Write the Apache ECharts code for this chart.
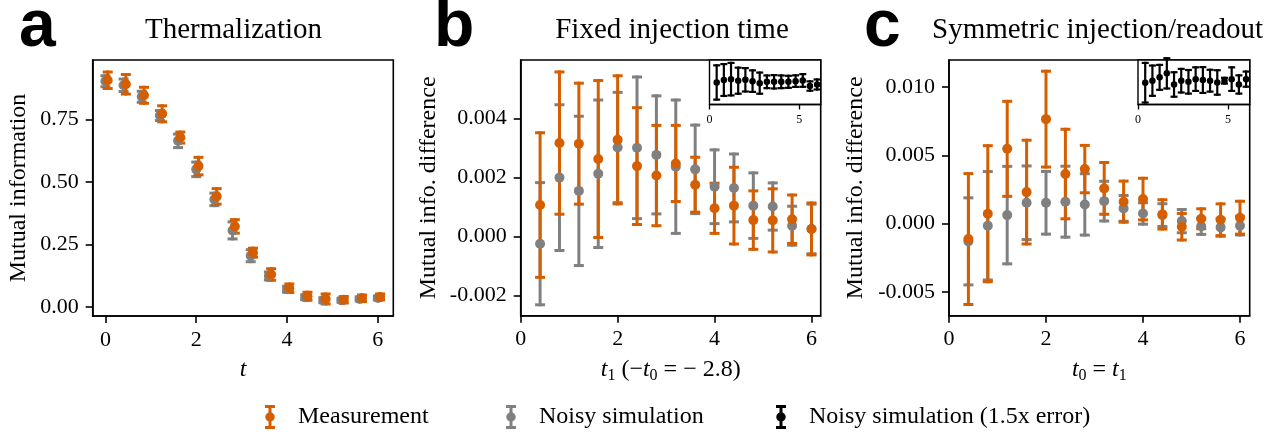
<!DOCTYPE html>
<html>
<head>
<meta charset="utf-8">
<script src="https://cdn.jsdelivr.net/npm/echarts@6/dist/echarts.min.js"></script>
<style>
html,body{margin:0;padding:0;background:#fff;}
#chart{width:1287px;height:436px;}
</style>
</head>
<body>
<div id="chart"></div>
<script>
// ---------- data ----------
const tA = [0.0,0.4,0.8,1.2,1.6,2.0,2.4,2.8,3.2,3.6,4.0,4.4,4.8,5.2,5.6,6.0];
const measOffsetA = 0.05;
const measA    = [0.906,0.890,0.846,0.772,0.677,0.563,0.442,0.322,0.217,0.130,0.075,0.043,0.032,0.029,0.035,0.040];
const measAErr = [0.033,0.039,0.032,0.032,0.022,0.035,0.031,0.027,0.018,0.023,0.017,0.016,0.020,0.013,0.013,0.012];
const simA     = [0.902,0.886,0.840,0.765,0.664,0.550,0.430,0.306,0.205,0.124,0.071,0.039,0.027,0.027,0.032,0.036];
const simAErr  = [0.022,0.025,0.022,0.020,0.027,0.029,0.025,0.034,0.024,0.016,0.012,0.010,0.010,0.008,0.008,0.008];

const tB = [0.4,0.8,1.2,1.6,2.0,2.4,2.8,3.2,3.6,4.0,4.4,4.8,5.2,5.6,6.0];
const measB    = [0.00106,0.00316,0.00314,0.00262,0.00327,0.00238,0.00206,0.00247,0.00175,0.00095,0.00104,0.00055,0.00054,0.00058,0.00025];
const measBErr = [0.00245,0.00241,0.00205,0.00266,0.00217,0.00198,0.00170,0.00129,0.00093,0.00085,0.00130,0.00099,0.00107,0.00082,0.00088];
const simB     = [-0.00025,0.00199,0.00154,0.00212,0.00301,0.00300,0.00276,0.00236,0.00227,0.00168,0.00164,0.00104,0.00101,0.00036,0.00025];
const simBErr  = [0.00207,0.00247,0.00253,0.00250,0.00187,0.00240,0.00200,0.00226,0.00150,0.00125,0.00115,0.00111,0.00080,0.00066,0.00084];

const tC = [0.4,0.8,1.2,1.6,2.0,2.4,2.8,3.2,3.6,4.0,4.4,4.8,5.2,5.6,6.0];
const measC    = [-0.00112,0.00073,0.00547,0.00231,0.00764,0.00363,0.00399,0.00258,0.00161,0.00180,0.00068,-0.00022,0.00036,0.00029,0.00044];
const measCErr = [0.00478,0.00497,0.00347,0.00379,0.00350,0.00327,0.00173,0.00189,0.00150,0.00152,0.00107,0.00097,0.00073,0.00116,0.00120];
const simC     = [-0.00129,-0.00015,0.00063,0.00153,0.00153,0.00161,0.00141,0.00165,0.00112,0.00075,0.00063,0.00019,-0.00019,-0.00027,-0.00015];
const simCErr  = [0.00318,0.00396,0.00356,0.00269,0.00229,0.00259,0.00224,0.00145,0.00094,0.00078,0.00083,0.00085,0.00059,0.00064,0.00067];

// insets (no y scale shown; arbitrary units)
const insetB    = [-0.01,0.10,0.14,0.07,0.11,0.05,-0.04,0.02,0.02,0.02,0.02,0.05,0.08,-0.17,-0.10];
const insetBErr = [0.77,0.715,0.73,0.585,0.525,0.485,0.475,0.285,0.30,0.285,0.27,0.26,0.285,0.21,0.225];
const insetC    = [-0.02,0.07,0.22,0.40,-0.10,0.07,0.02,0.14,0.10,0.07,-0.01,0.07,0.14,-0.10,0.14];
const insetCErr = [0.89,0.68,0.56,0.68,0.55,0.53,0.53,0.53,0.58,0.49,0.55,0.13,0.53,0.41,0.34];

// ticks
const xTicksMain = [0,2,4,6];
const xTicksInset = [0,5];
const yTicksA = [0,0.25,0.5,0.75];
const yTicksB = [-0.002,0,0.002,0.004];
const yTicksC = [-0.005,0,0.005,0.010];

// ---------- styling ----------
const ORANGE = '#d55e00';
const GRAY = '#808080';
const BLACK = '#000000';
const SERIF = '"Liberation Serif", "Times New Roman", serif';
const SANS = '"Liberation Sans", Arial, sans-serif';

function zip3(xs, ys, es, off) {
  return xs.map((x, i) => [x + (off || 0), ys[i], es[i]]);
}
function zip2(xs, ys, off) {
  return xs.map((x, i) => [x + (off || 0), ys[i]]);
}

// error bar: stem + two caps drawn as filled rectangles from axis coordinates
function barRender(halfCap, lw, color) {
  return function (params, api) {
    const x = api.value(0), y = api.value(1), e = api.value(2);
    const lo = api.coord([x, y - e]);
    const hi = api.coord([x, y + e]);
    const st = {fill: color};
    const h = lw / 2;
    return {
      type: 'group',
      children: [
        {type: 'rect', shape: {x: lo[0] - h, y: hi[1] - h, width: lw, height: lo[1] - hi[1] + lw}, style: st},
        {type: 'rect', shape: {x: lo[0] - halfCap, y: lo[1] - h, width: 2 * halfCap, height: lw}, style: st},
        {type: 'rect', shape: {x: hi[0] - halfCap, y: hi[1] - h, width: 2 * halfCap, height: lw}, style: st}
      ]
    };
  };
}

function errSeries(name, idx, data, color, halfCap, lw) {
  return {
    type: 'custom', name: name, xAxisIndex: idx, yAxisIndex: idx,
    data: data, encode: {x: 0, y: 1}, renderItem: barRender(halfCap, lw, color),
    silent: true, clip: false, z: 2
  };
}
function dotSeries(name, idx, data, color, size) {
  return {
    type: 'scatter', name: name, xAxisIndex: idx, yAxisIndex: idx,
    data: data, symbol: 'circle', symbolSize: size,
    itemStyle: {color: color, opacity: 1}, silent: true, z: 3
  };
}

const tickLabelStyle = {fontFamily: SERIF, fontSize: 22, color: '#000'};
const nameStyle = {
  fontFamily: SERIF, fontSize: 24, color: '#000', lineHeight: 28,
  rich: {
    i: {fontFamily: SERIF, fontSize: 24, fontStyle: 'italic', color: '#000', lineHeight: 28},
    s: {fontFamily: SERIF, fontSize: 16, color: '#000', lineHeight: 16, verticalAlign: 'bottom'},
    n: {fontFamily: SERIF, fontSize: 24, color: '#000', lineHeight: 28}
  }
};

function mainX(idx, min, max, name) {
  return {
    type: 'value', gridIndex: idx, min: min, max: max, name: name,
    nameLocation: 'middle', nameGap: 38, nameTextStyle: nameStyle,
    splitLine: {show: false},
    axisLine: {show: true, onZero: false, lineStyle: {color: '#000', width: 1.6}},
    axisTick: {show: true, length: 7, inside: false, lineStyle: {color: '#000', width: 1.6}, customValues: xTicksMain},
    axisLabel: {show: true, margin: 13, customValues: xTicksMain, formatter: v => String(Math.round(v)), ...tickLabelStyle}
  };
}
function mainY(idx, min, max, ticks, digits, name, gap) {
  return {
    type: 'value', gridIndex: idx, min: min, max: max, name: name,
    nameLocation: 'middle', nameGap: gap, nameTextStyle: {fontFamily: SERIF, fontSize: 24, color: '#000'},
    splitLine: {show: false},
    axisLine: {show: true, onZero: false, lineStyle: {color: '#000', width: 1.6}},
    axisTick: {show: true, length: 7, inside: false, lineStyle: {color: '#000', width: 1.6}, customValues: ticks},
    axisLabel: {show: true, margin: 14, customValues: ticks, formatter: v => v.toFixed(digits), ...tickLabelStyle}
  };
}
function insetX(idx) {
  return {
    type: 'value', gridIndex: idx, min: 0, max: 6.2,
    splitLine: {show: false},
    axisLine: {show: true, onZero: false, lineStyle: {color: '#000', width: 1.4}},
    axisTick: {show: true, length: 5, inside: false, lineStyle: {color: '#000', width: 1.3}, customValues: xTicksInset},
    axisLabel: {show: true, margin: 9, customValues: xTicksInset, formatter: v => String(Math.round(v)), fontFamily: SERIF, fontSize: 12, color: '#000'}
  };
}
function insetY(idx) {
  return {
    type: 'value', gridIndex: idx, min: -1, max: 1,
    splitLine: {show: false}, axisLine: {show: false}, axisTick: {show: false}, axisLabel: {show: false}
  };
}

// errorbar-shaped legend glyph (caps, stem, dot), all subpaths clockwise
const ICON = 'path://M0,0 L20,0 L20,6 L13,6 L13,42 L20,42 L20,48 L0,48 L0,42 L7,42 L7,6 L0,6 Z M0.5,24 A9.5,9.5 0 1,1 19.5,24 A9.5,9.5 0 1,1 0.5,24 Z';

function legendAt(left, name) {
  return {
    left: left, top: 405, padding: 0, itemWidth: 46, itemHeight: 24,
    selectedMode: false, orient: 'horizontal',
    data: [{name: name, icon: ICON}],
    textStyle: {fontFamily: SERIF, fontSize: 24, color: '#000'}
  };
}

const gridBase = {show: true, borderColor: '#000', borderWidth: 1.6, backgroundColor: 'transparent', containLabel: false, outerBoundsMode: 'none'};

const option = {
  animation: false,
  backgroundColor: '#fff',
  grid: [
    {...gridBase, left: 92.7, top: 60, width: 300.6, height: 256},
    {...gridBase, left: 520.7, top: 60, width: 300, height: 255.7},
    {...gridBase, left: 949, top: 60, width: 300.7, height: 255.7},
    {...gridBase, left: 709.5, top: 60, width: 111.2, height: 44.5, borderWidth: 1.4, backgroundColor: '#fff'},
    {...gridBase, left: 1138, top: 60, width: 111.7, height: 44.5, borderWidth: 1.4, backgroundColor: '#fff'}
  ],
  xAxis: [
    mainX(0, -0.28, 6.34, '{i|t}'),
    mainX(1, 0, 6.19, '{i|t}{s|1}{n| (−}{i|t}{s|0}{n| = − 2.8)}'),
    mainX(2, 0, 6.2, '{i|t}{s|0}{n| = }{i|t}{s|1}'),
    insetX(3),
    insetX(4)
  ],
  yAxis: [
    mainY(0, -0.036, 0.987, yTicksA, 2, 'Mutual information', 62),
    mainY(1, -0.00269, 0.005976, yTicksB, 3, 'Mutual info. difference', 80),
    mainY(2, -0.00672, 0.01196, yTicksC, 3, 'Mutual info. difference', 81),
    insetY(3),
    insetY(4)
  ],
  legend: [
    legendAt(265, 'Measurement'),
    legendAt(506, 'Noisy simulation'),
    legendAt(776, 'Noisy simulation (1.5x error)')
  ],
  graphic: [
    {type: 'text', x: 19, y: 28, style: {text: 'a', font: 'bold 66px ' + SANS, fill: '#000', textAlign: 'left', align: 'left', textVerticalAlign: 'middle', verticalAlign: 'middle'}},
    {type: 'text', x: 434, y: 28, style: {text: 'b', font: 'bold 66px ' + SANS, fill: '#000', textAlign: 'left', align: 'left', textVerticalAlign: 'middle', verticalAlign: 'middle'}},
    {type: 'text', x: 864, y: 28, style: {text: 'c', font: 'bold 66px ' + SANS, fill: '#000', textAlign: 'left', align: 'left', textVerticalAlign: 'middle', verticalAlign: 'middle'}},
    {type: 'text', x: 233.5, y: 30, style: {text: 'Thermalization', font: '29px ' + SERIF, fill: '#000', textAlign: 'center', align: 'center', textVerticalAlign: 'middle', verticalAlign: 'middle'}},
    {type: 'text', x: 672, y: 30, style: {text: 'Fixed injection time', font: '29px ' + SERIF, fill: '#000', textAlign: 'center', align: 'center', textVerticalAlign: 'middle', verticalAlign: 'middle'}},
    {type: 'text', x: 1097.5, y: 30, style: {text: 'Symmetric injection/readout', font: '29px ' + SERIF, fill: '#000', textAlign: 'center', align: 'center', textVerticalAlign: 'middle', verticalAlign: 'middle'}}
  ],
  series: [
    // panel a
    errSeries('simA bars', 0, zip3(tA, simA, simAErr), GRAY, 5, 3),
    dotSeries('Noisy simulation', 0, zip2(tA, simA), GRAY, 10),
    errSeries('measA bars', 0, zip3(tA, measA, measAErr, measOffsetA), ORANGE, 5, 3),
    dotSeries('Measurement', 0, zip2(tA, measA, measOffsetA), ORANGE, 10),
    // panel b
    errSeries('simB bars', 1, zip3(tB, simB, simBErr), GRAY, 5, 3),
    dotSeries('Noisy simulation', 1, zip2(tB, simB), GRAY, 10),
    errSeries('measB bars', 1, zip3(tB, measB, measBErr), ORANGE, 5, 3),
    dotSeries('Measurement', 1, zip2(tB, measB), ORANGE, 10),
    // panel c
    errSeries('simC bars', 2, zip3(tC, simC, simCErr), GRAY, 5, 3),
    dotSeries('Noisy simulation', 2, zip2(tC, simC), GRAY, 10),
    errSeries('measC bars', 2, zip3(tC, measC, measCErr), ORANGE, 5, 3),
    dotSeries('Measurement', 2, zip2(tC, measC), ORANGE, 10),
    // insets
    errSeries('insetB bars', 3, zip3(tB, insetB, insetBErr), BLACK, 3.5, 2.2),
    dotSeries('Noisy simulation (1.5x error)', 3, zip2(tB, insetB), BLACK, 6.5),
    errSeries('insetC bars', 4, zip3(tC, insetC, insetCErr), BLACK, 3.5, 2.2),
    dotSeries('Noisy simulation (1.5x error)', 4, zip2(tC, insetC), BLACK, 6.5)
  ]
};

const chart = echarts.init(document.getElementById('chart'), null, {renderer: 'canvas', width: 1287, height: 436});
chart.setOption(option);
</script>
</body>
</html>
